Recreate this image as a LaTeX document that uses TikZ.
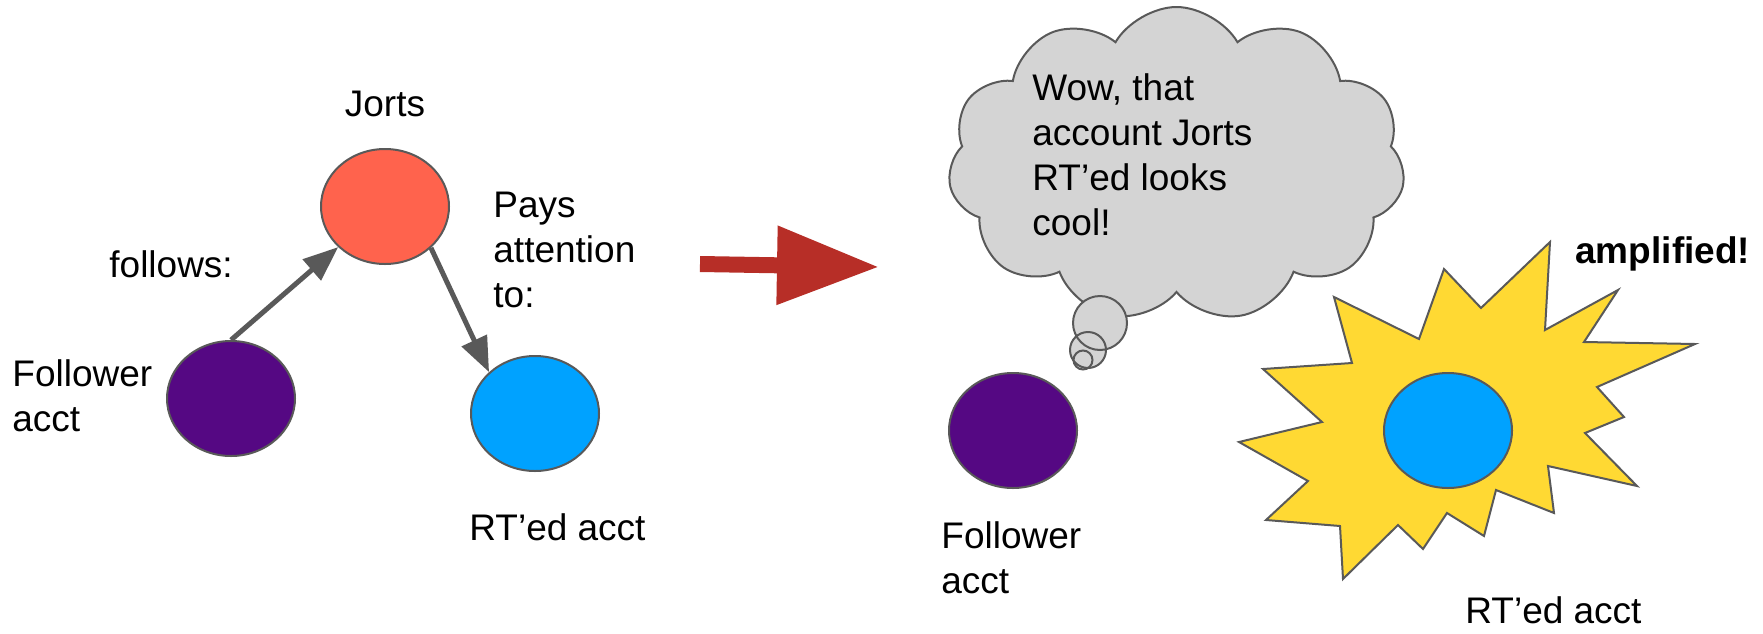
\documentclass[tikz,border=0pt]{standalone}
\usepackage{fontspec}
\setmainfont{Liberation Sans}
\usetikzlibrary{shapes.geometric, shapes.symbols, arrows.meta, positioning}

\definecolor{jortsred}{RGB}{255,99,77}
\definecolor{folpurple}{RGB}{85,8,131}
\definecolor{rtblue}{RGB}{0,162,255}
\definecolor{staryellow}{RGB}{255,217,51}
\definecolor{cloudgray}{RGB}{212,212,212}
\definecolor{edgegray}{RGB}{89,89,89}
\definecolor{bigred}{RGB}{183,46,39}

\begin{document}
\begin{tikzpicture}[x=0.5pt, y=-0.5pt, acct/.style={ellipse, draw=edgegray, line width=1pt, fill=#1, minimum width=64pt, minimum height=57.5pt, inner sep=0pt}, txt/.style={inner sep=0pt, align=left, font=\fontsize{18.5pt}{22.5pt}\selectfont}, link/.style={draw=edgegray, line width=2.5pt, -{Triangle[length=17.5pt, width=13.5pt]}}, bubble/.style={circle, fill=cloudgray, inner sep=0pt, minimum size=#1}, node distance=15.5pt]
		\useasboundingbox (0,0) rectangle (1763,633);
		\node (jorts) [acct=jortsred] at (385,206.5) {};
		\node (fol) [acct=folpurple] at (231,398.5) {};
		\node (rt) [acct=rtblue] at (535,413.5) {};
		\node (jortslbl) [txt, above=of jorts] {Jorts};
		\node (followslbl) [txt, anchor=base west] at (109,277) {follows:};
		\node (payslbl) [txt, anchor=base west] at (493,307) {Pays\\attention\\to:};
		\node (follbl) [txt, anchor=base west] at (12,431) {Follower\\acct};
		\node (rtlbl) [txt, anchor=base west] at (469,540) {RT’ed acct};
		\draw[link] (fol.north) -- (jorts);
		\draw[link] (jorts.-42) -- (rt.138);
		\coordinate (bigtail) at (700,264);
		\coordinate (bighead) at (879,267);
		\draw[bigred, line width=8pt, -{Triangle[length=51pt, width=37.5pt]}] (bigtail) -- (bighead);
		\node (thought) [cloud, cloud puffs=11, cloud puff arc=120, cloud ignores aspect, draw=edgegray, line width=1pt, fill=cloudgray, minimum width=228.5pt, minimum height=157.5pt, inner sep=0pt] at (1176.5,164.5) {};
		\node (thoughtlbl) [txt, anchor=base west] at (1032,235) {Wow, that\\account Jorts\\RT’ed looks\\cool!};
		\foreach \n/\x/\y/\r in {b1/1100/323/27, b2/1088/350/18, b3/1083/360/9.5}
			\node (\n) [bubble=\r pt] at (\x,\y) {};
		\foreach \x/\y/\r in {1100/323/27, 1088/350/18, 1083/360/9.5}
			\draw[edgegray, line width=1pt] (\x,\y) circle[radius=\r];
		\node (fol2) [acct=folpurple] at (1013,430.5) {};
		\node (fol2lbl) [txt, anchor=base west] at (941,593) {Follower\\acct};
		\draw[draw=edgegray, line width=1pt, fill=staryellow] (1550,242) -- (1545,330) -- (1618,290) -- (1584,342) -- (1695,344) -- (1597,387) -- (1624,417) -- (1585,433) -- (1637,486) -- (1548,466) -- (1554,513) -- (1496,490) -- (1484,536) -- (1447,513) -- (1423,549) -- (1398,525) -- (1343,579) -- (1340,526) -- (1266,520) -- (1308,481) -- (1239,442) -- (1322,422) -- (1263,369) -- (1352,363) -- (1334,297) -- (1419,339) -- (1444,269) -- (1481,308) -- cycle;
		\node (rt2) [acct=rtblue] at (1448,430.5) {};
		\node (amplbl) [txt, font=\fontsize{18.5pt}{22.5pt}\selectfont\bfseries, anchor=base west] at (1575,263) {amplified!};
		\node (rt2lbl) [txt, anchor=base west] at (1465,623) {RT’ed acct};
\end{tikzpicture}
\end{document}
